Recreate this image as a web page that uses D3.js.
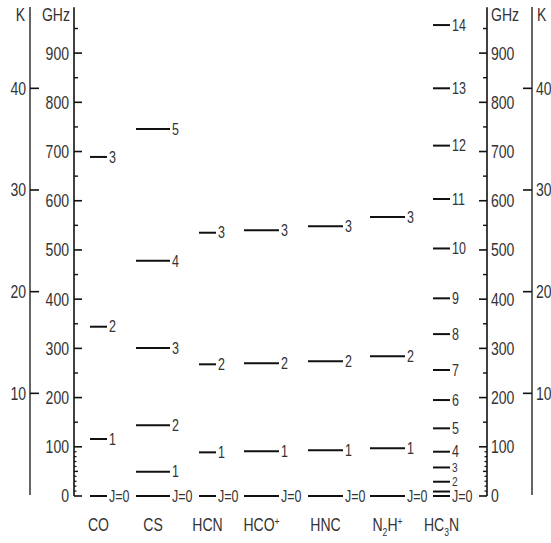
<!DOCTYPE html>
<html><head><meta charset="utf-8">
<script src="https://cdn.jsdelivr.net/npm/d3@7"></script>
<style>
body{margin:0;background:#fff;}
svg text{font-family:"Liberation Sans",Arial,sans-serif;fill:#333;}
</style></head>
<body><svg id="c" width="551" height="543"></svg>
<script>
// ---- data ----
const molecules = ["CO","CS","HCN","HCO+","HNC","N2H+","HC3N"];
const coLevels   = [0, 115.8, 344, 689];
const csLevels   = [0, 49.4, 144, 300.7, 478, 746];
const hcnLevels  = [0, 88.7, 267.6, 535];
const hcoLevels  = [0, 90.8, 270, 540];
const hncLevels  = [0, 93, 274, 548];
const n2hLevels  = [0, 96.9, 284, 567];
const hc3nLevels = [0, 9.1, 29, 58, 90, 137.5, 195, 256, 329, 401.7, 503, 603.5, 712, 828.5, 957];
const ghzTicks = [0,100,200,300,400,500,600,700,800,900];
const kTicks = [10,20,30,40];
const hiddenLabels = {"HC3N":[1]};

const levelsByMol = {"CO":coLevels,"CS":csLevels,"HCN":hcnLevels,"HCO+":hcoLevels,"HNC":hncLevels,"N2H+":n2hLevels,"HC3N":hc3nLevels};

// ---- layout ----
const svg = d3.select("#c");
const y = d3.scaleLinear().domain([0,1000]).range([496,3.9]);
const yK = d3.scaleLinear().domain([0,48]).range([495,7]);
const xC = d3.scaleOrdinal().domain(molecules).range([98.5,153,207.5,261.5,325.5,387.5,441.5]);
const wC = d3.scaleOrdinal().domain(molecules).range([17,34,17,35,35,35,17]);
const fsTick = 18, fsLev = 16, fsLevTight = 13, fsMol = 18, SX = 0.78;

// condensed text helper
function txt(g, x, yy, s, size, anchor, dy){
  return g.append("text")
    .attr("transform",`translate(${x},${yy}) scale(${SX},1)`)
    .attr("dy", dy==null ? "0.36em" : dy)
    .attr("text-anchor", anchor||"start").attr("font-size",size).text(s);
}

function ghzAxis(x, orient){
  const dir = orient === "left" ? -1 : 1;
  const g = svg.append("g");
  g.append("line").attr("x1",x).attr("x2",x).attr("y1",y(0)).attr("y2",y(993))
    .attr("stroke","#111").attr("stroke-width",1.6);
  const minor = d3.range(50,1000,100);
  const tiny = d3.range(10,100,10).filter(d=>d!==50);
  g.selectAll(".mj").data(ghzTicks).join("line")
    .attr("x1",x).attr("x2",x+dir*8).attr("y1",d=>y(d)).attr("y2",d=>y(d))
    .attr("stroke","#111").attr("stroke-width",1.6);
  g.selectAll(".mn").data(minor).join("line")
    .attr("x1",x).attr("x2",x+dir*4).attr("y1",d=>y(d)).attr("y2",d=>y(d))
    .attr("stroke","#111").attr("stroke-width",1.4);
  g.selectAll(".tn").data(tiny).join("line")
    .attr("x1",x).attr("x2",x+dir*2.5).attr("y1",d=>y(d)).attr("y2",d=>y(d))
    .attr("stroke","#111").attr("stroke-width",1.2);
  ghzTicks.forEach(d=>txt(g, dir>0 ? x-5 : x+4, y(d), d, fsTick, dir>0?"end":"start"));
  txt(g, dir>0 ? x-4 : x+4, 21, "GHz", fsTick, dir>0?"end":"start", "0");
}
function kAxis(x, orient){
  const dir = orient === "left" ? -1 : 1;
  const g = svg.append("g");
  g.append("line").attr("x1",x).attr("x2",x).attr("y1",yK(0)).attr("y2",yK(48))
    .attr("stroke","#555").attr("stroke-width",1.8);
  g.selectAll("line.t").data(kTicks).join("line").attr("class","t")
    .attr("x1",x).attr("x2",x+dir*9).attr("y1",d=>yK(d)).attr("y2",d=>yK(d))
    .attr("stroke","#111").attr("stroke-width",1.6);
  kTicks.forEach(d=>txt(g, dir>0 ? x-4 : x+4, yK(d), d, fsTick, dir>0?"end":"start"));
  txt(g, dir>0 ? x-5 : x+5, 21, "K", fsTick, dir>0?"end":"start", "0");
}
kAxis(30,"right");
ghzAxis(74,"right");
ghzAxis(487,"left");
kAxis(532,"left");

// levels
molecules.forEach(m=>{
  const cx = xC(m), w = wC(m);
  const data = levelsByMol[m].map((v,j)=>({v,j}));
  const g = svg.append("g");
  g.selectAll("line").data(data).join("line")
    .attr("x1",cx-w/2).attr("x2",cx+w/2).attr("y1",d=>y(d.v)).attr("y2",d=>y(d.v))
    .attr("stroke","#111").attr("stroke-width",2);
  const hid = hiddenLabels[m] || [];
  data.filter(d=>!hid.includes(d.j)).forEach(d=>{
    // closely spaced low levels get a smaller label
    const tight = m==="HC3N" && d.j>=2 && d.j<=3;
    txt(g, cx+w/2+2, y(d.v), d.j===0?"J=0":d.j, tight?fsLevTight:fsLev, "start");
  });
});

// molecule names
const names = {
  "CO":[["CO",""]],"CS":[["CS",""]],"HCN":[["HCN",""]],
  "HCO+":[["HCO",""],["+","sup"]],"HNC":[["HNC",""]],
  "N2H+":[["N",""],["2","sub"],["H",""],["+","sup"]],
  "HC3N":[["HC",""],["3","sub"],["N",""]]
};
molecules.forEach(m=>{
  const t = svg.append("text")
    .attr("transform",`translate(${xC(m)},531) scale(${SX},1)`)
    .attr("text-anchor","middle").attr("font-size",fsMol);
  let off = 0;
  names[m].forEach(([s,k])=>{
    const ts = t.append("tspan").text(s);
    if(k==="sub"){ ts.attr("font-size",11).attr("dy",5-off); off=5; }
    else if(k==="sup"){ ts.attr("font-size",11).attr("dy",-6-off); off=-6; }
    else { ts.attr("dy",-off); off=0; }
  });
});
</script></body></html>
